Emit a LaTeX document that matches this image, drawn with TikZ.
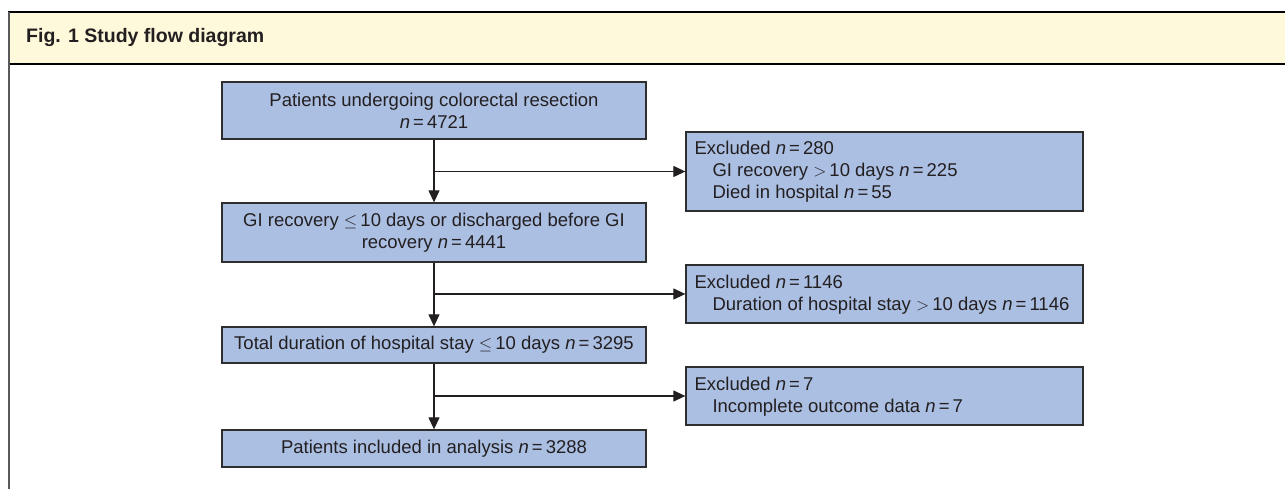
\documentclass[tikz,border=0pt]{standalone}
\usepackage{fontspec}
\setmainfont{Liberation Sans}
\usetikzlibrary{arrows.meta}
\definecolor{boxblue}{HTML}{ABBFE3}
\definecolor{hdr}{HTML}{FFF9DB}
\definecolor{ink}{HTML}{231F20}
\definecolor{edge}{HTML}{2E2E2E}
\newcommand{\nn}[1]{\textit{n}\,=\,#1}
\tikzset{
  flowbox/.style={draw=edge, line width=1.3bp, fill=boxblue, text=ink, inner sep=0pt,
    minimum width=424bp, align=center, font=\fontsize{18.5bp}{22bp}\selectfont},
  exbox/.style={draw=edge, line width=1.3bp, fill=boxblue, inner sep=0pt, minimum width=397bp},
  extext/.style={anchor=west, inner sep=0pt, text=ink, align=left, font=\fontsize{18.5bp}{22bp}\selectfont},
  conn/.style={draw=ink, line width=1.2bp},
  arr/.style={conn, -{Triangle[length=12bp,width=11bp]}}
}
\begin{document}
\begin{tikzpicture}[x=1bp,y=-1bp]
\useasboundingbox (0,0) rectangle (1285,489);
% header band
\fill[hdr] (8,12) rectangle (1285,64);
\draw[black, line width=1.5bp] (8,12) -- (1285,12);
\draw[black, line width=1.5bp] (8,64) -- (1285,64);
\draw[gray!70!black, line width=2bp] (9,12) -- (9,489);
\node[anchor=west, inner sep=0pt, text=ink, font=\fontsize{19.5bp}{22bp}\selectfont\bfseries] (title) at (26,38) {Fig. 1 Study flow diagram};
% main boxes
\node[flowbox, minimum height=57bp] (n1) at (434,110.5) {Patients undergoing colorectal resection\\ \nn{4721}};
\node[flowbox, minimum height=59bp] (n2) at (434,232.5) {GI recovery $\leq$\,10 days or discharged before GI\\ recovery \nn{4441}};
\node[flowbox, minimum height=36bp] (n3) at (434,345) {Total duration of hospital stay $\leq$\,10 days \nn{3295}};
\node[flowbox, minimum height=37bp] (n4) at (434,448.5) {Patients included in analysis \nn{3288}};
% exclusion boxes
\node[exbox, minimum height=79bp] (e1) at (884.5,171.5) {};
\node[extext] (t1) at ([xshift=9bp]e1.west) {Excluded \nn{280}\\ \hspace*{18bp}GI recovery $>$\,10 days \nn{225}\\ \hspace*{18bp}Died in hospital \nn{55}};
\node[exbox, minimum height=58bp] (e2) at (884.5,294) {};
\node[extext] (t2) at ([xshift=9bp,yshift=-1bp]e2.west) {Excluded \nn{1146}\\ \hspace*{18bp}Duration of hospital stay $>$\,10 days \nn{1146}};
\node[exbox, minimum height=58bp] (e3) at (884.5,396) {};
\node[extext] (t3) at ([xshift=9bp,yshift=-1bp]e3.west) {Excluded \nn{7}\\ \hspace*{18bp}Incomplete outcome data \nn{7}};
% connectors
\draw[arr] (n1.south) -- (n2.north);
\draw[arr] (n2.south) -- (n3.north);
\draw[arr] (n3.south) -- (n4.north);
\coordinate (b1) at (n1.south |- e1.west);
\coordinate (b2) at (n2.south |- e2.west);
\coordinate (b3) at (n3.south |- e3.west);
\draw[arr] (b1) -- (e1.west);
\draw[arr] (b2) -- (e2.west);
\draw[arr] (b3) -- (e3.west);
\end{tikzpicture}
\end{document}
